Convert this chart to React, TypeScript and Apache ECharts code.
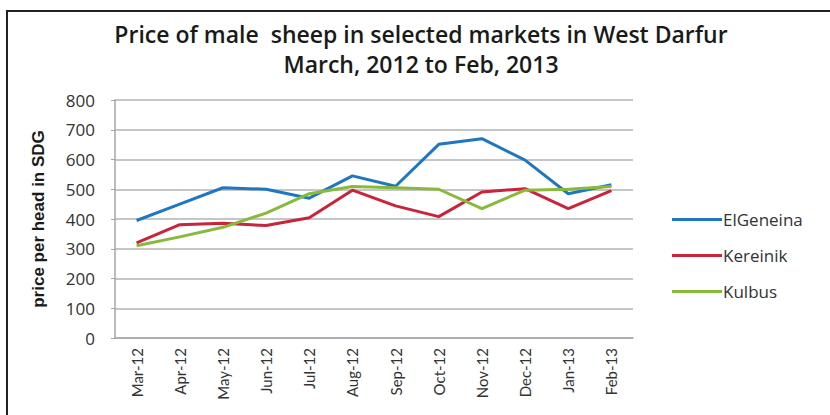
import React, { useEffect, useRef } from "react";
import * as echarts from "echarts";

const months = ["Mar-12", "Apr-12", "May-12", "Jun-12", "Jul-12", "Aug-12", "Sep-12", "Oct-12", "Nov-12", "Dec-12", "Jan-13", "Feb-13"];
const elGeneina = [395, 450, 505, 500, 470, 545, 510, 651, 670, 598, 485, 515];
const kereinik = [320, 381, 386, 378, 404, 497, 444, 408, 491, 502, 435, 495];
const kulbus = [310, 340, 372, 420, 485, 509, 505, 500, 435, 497, 500, 509];
const titleLines = ["Price of male  sheep in selected markets in West Darfur", "March, 2012 to Feb, 2013"];
const yAxisTitle = "price per head in SDG";

export default function App() {
  const ref = useRef<HTMLDivElement>(null);
  useEffect(() => {
    if (!ref.current) return;
    const chart = echarts.init(ref.current, undefined, { renderer: "svg" });
    const font = "Lato, Open Sans, sans-serif";
    const wide = "Open Sans, sans-serif";
    const mk = (name: string, data: number[], color: string) => ({
      name,
      type: "line",
      data,
      symbol: "none",
      lineStyle: { width: 3, color },
      itemStyle: { color },
    });
    chart.setOption({
      animation: false,
      backgroundColor: "#ffffff",
      title: {
        text: titleLines.join("\n"),
        left: 416,
        textAlign: "center",
        top: 14,
        textStyle: { fontFamily: wide, fontSize: 23, fontWeight: 600, color: "#1a1a1a", lineHeight: 30 },
      },
      legend: {
        orient: "vertical",
        left: 667,
        top: 206,
        itemWidth: 50,
        itemHeight: 3,
        itemGap: 19,
        icon: "rect",
        textStyle: { fontFamily: wide, fontSize: 17, color: "#333", padding: [0, 0, 0, -4] },
        data: ["ElGeneina", "Kereinik", "Kulbus"],
      },
      grid: { left: 115, right: 197, top: 100, bottom: 77, containLabel: false },
      xAxis: {
        type: "category",
        data: months,
        boundaryGap: true,
        axisLine: { lineStyle: { color: "#a6a6a6", width: 1.5 } },
        axisTick: { show: false },
        axisLabel: { rotate: 90, fontFamily: font, fontSize: 15, color: "#333", margin: 10 },
      },
      yAxis: {
        type: "value",
        min: 0,
        max: 800,
        interval: 100,
        name: yAxisTitle,
        nameLocation: "middle",
        nameGap: 68,
        nameTextStyle: { fontFamily: "Liberation Sans Narrow, Arial Narrow, sans-serif", fontSize: 17, fontWeight: "bold", color: "#1a1a1a" },
        axisLine: { show: true, lineStyle: { color: "#a6a6a6", width: 1.5 } },
        axisTick: { show: true, length: 4, lineStyle: { color: "#a6a6a6" } },
        axisLabel: { fontFamily: wide, fontSize: 17, color: "#333", margin: 20 },
        splitLine: { lineStyle: { color: "#b3b3b3", width: 1.5 } },
      },
      graphic: [
        { type: "rect", shape: { x: 7, y: 11, width: 840, height: 420 }, style: { fill: "none", stroke: "#222", lineWidth: 2 }, silent: true },
      ],
      series: [
        mk("ElGeneina", elGeneina, "#1f77c2"),
        mk("Kereinik", kereinik, "#c8243b"),
        mk("Kulbus", kulbus, "#88b93a"),
      ],
    });
    return () => chart.dispose();
  }, []);
  return <div ref={ref} style={{ position: "fixed", left: 0, top: 0, width: 830, height: 415 }} />;
}
